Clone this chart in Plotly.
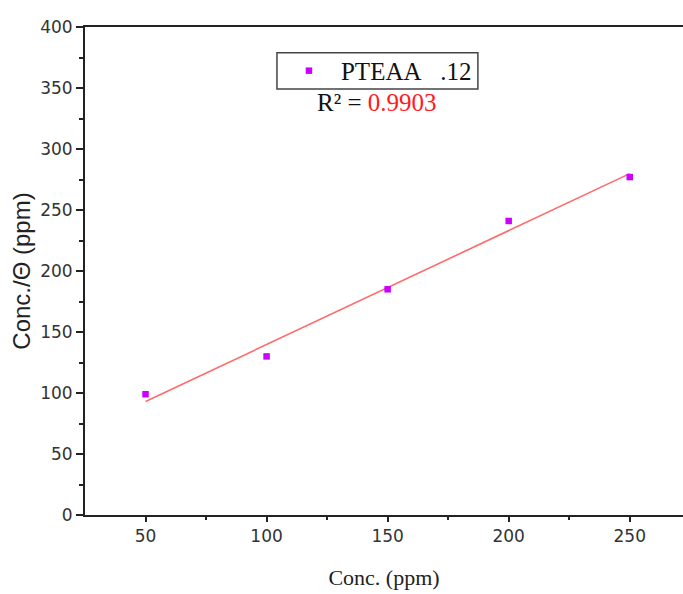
import numpy as np
import plotly.graph_objects as go

conc = [50, 100, 150, 200, 250]
conc_theta = [99, 130, 185, 241, 277]
series_name = "PTEAA   .12"
r2_text = "0.9903"

slope, intercept = np.polyfit(conc, conc_theta, 1)
fit_x = [conc[0], conc[-1]]
fit_y = [slope * x + intercept for x in fit_x]

fig = go.Figure()
fig.add_trace(go.Scatter(x=fit_x, y=fit_y, mode="lines",
                         line=dict(color="#ff6b6b", width=1.6), showlegend=False))
fig.add_trace(go.Scatter(x=conc, y=conc_theta, mode="markers", name=series_name.replace(" ", "\u00a0"),
                         marker=dict(symbol="square", size=6.5, color="#cc00ff")))

tickfont = dict(family="DejaVu Sans, Arial", size=17, color="#333333")
axis_common = dict(showgrid=False, zeroline=False, showline=True, linecolor="#222222", linewidth=2,
                   ticks="outside", tickwidth=2, tickcolor="#222222",
                   tickfont=tickfont, automargin=False)
fig.update_layout(
    width=683, height=594,
    margin=dict(l=85, r=0, t=27, b=79),
    plot_bgcolor="white", paper_bgcolor="white",
    showlegend=True,
    legend=dict(x=0.321, y=0.910, xanchor="left", yanchor="middle",
                borderwidth=0, bgcolor="rgba(0,0,0,0)",
                font=dict(family="Liberation Serif, Times New Roman", size=25, color="#111111"),
                itemwidth=54, tracegroupgap=0),
    xaxis=dict(range=[25, 272], tickvals=[50, 100, 150, 200, 250], mirror=True, ticklen=5,
               minor=dict(tickvals=[75, 125, 175, 225], ticks="outside", ticklen=3, tickwidth=2, tickcolor="#222222"),
               title=dict(text="Conc. (ppm)", standoff=24,
                          font=dict(family="Liberation Serif, Times New Roman", size=22, color="#222222")),
               **axis_common),
    yaxis=dict(range=[0, 400], tickvals=list(range(0, 401, 50)), mirror=False, ticklen=7,
               minor=dict(tickvals=list(range(25, 400, 50)), ticks="outside", ticklen=4, tickwidth=2, tickcolor="#222222"),
               title=dict(text="Conc./\u0398 (ppm)", standoff=3,
                          font=dict(family="Liberation Sans, Arial", size=24, color="#222222")),
               **axis_common),
)
# legend frame
fig.add_shape(type="rect", xref="paper", yref="paper", x0=0.321, x1=0.657, y0=0.873, y1=0.947,
              line=dict(color="#444444", width=1.5), fillcolor="white", layer="above")
fig.add_annotation(x=0.385, y=0.846, xref="paper", yref="paper", xanchor="left", yanchor="middle",
                   showarrow=False,
                   text="R\u00b2 = <span style='color:#ff1a1a'>" + r2_text + "</span>",
                   font=dict(family="Liberation Serif, Times New Roman", size=25, color="#111111"))

fig.write_html("out.html", config={"displayModeBar": False},
               post_script="document.body.style.margin='0';document.body.style.overflow='hidden';")
